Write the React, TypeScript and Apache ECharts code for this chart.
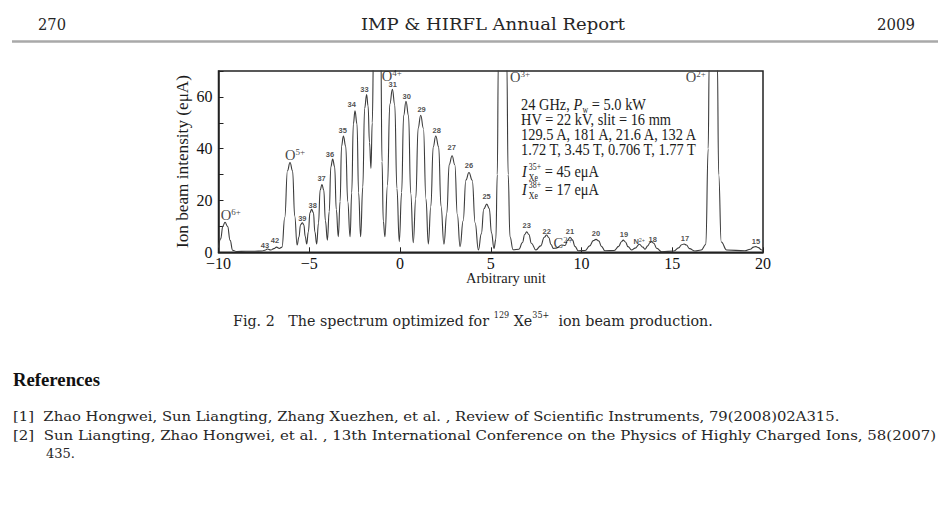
import React, { useEffect, useRef } from "react";
import * as echarts from "echarts";

// ---- spectrum (x: arbitrary unit, y: eμA) ----
const spectrumX = [
  -10.0, -9.88, -9.76, -9.64, -9.5, -9.36, -9.22, -9.0, -8.5, -8.0, -7.6, -7.45, -7.3, -7.12, -6.95, -6.8, -6.65,
  -6.5, -6.35, -6.2, -6.06, -5.92, -5.8, -5.67,
  -5.57, -5.48, -5.38, -5.3, -5.22, -5.14,
  -5.05, -4.96, -4.87, -4.77, -4.69, -4.59,
  -4.49, -4.4, -4.3, -4.2, -4.11, -4.0,
  -3.9, -3.81, -3.71, -3.6, -3.51, -3.4,
  -3.3, -3.22, -3.12, -2.99, -2.88, -2.75,
  -2.66, -2.57, -2.48, -2.37, -2.28, -2.17,
  -2.05, -1.95, -1.84, -1.76, -1.68, -1.6,
  -1.53, -1.45, -1.25, -1.06, -0.99, -0.92, -0.83,
  -0.69, -0.56, -0.42, -0.29, -0.17, -0.04,
  0.09, 0.2, 0.33, 0.47, 0.59, 0.73,
  0.87, 1.0, 1.14, 1.29, 1.43, 1.56,
  1.7, 1.83, 1.97, 2.13, 2.26, 2.42,
  2.58, 2.71, 2.87, 3.02, 3.16, 3.31,
  3.48, 3.63, 3.8, 3.98, 4.14, 4.32,
  4.48, 4.62, 4.78, 4.92, 5.04, 5.18,
  5.28, 5.36, 5.42, 5.65, 5.88, 5.96, 6.06, 6.23,
  6.55, 6.75, 6.87, 6.98, 7.1, 7.24, 7.49,
  7.75, 7.95, 8.08, 8.2, 8.32, 8.45,
  8.6, 8.91, 9.1, 9.22, 9.37, 9.5, 9.64, 9.82,
  10.2, 10.45, 10.65, 10.8, 10.95, 11.1, 11.29,
  11.8, 12.05, 12.2, 12.3, 12.42, 12.56, 12.76,
  12.95, 13.19, 13.38, 13.5, 13.65, 13.78, 13.87, 13.98, 14.15, 14.42,
  15.1, 15.35, 15.52, 15.65, 15.78, 15.95, 16.25,
  16.6, 16.85, 16.98, 17.04, 17.26, 17.48, 17.56, 17.7, 18.0,
  19.0, 19.3, 19.48, 19.61, 19.75, 19.9, 20.0,
];
const spectrumY = [
  1.8, 5.2, 10.1, 11.6, 10.0, 4.6, 0.8, 0.3, 0.4, 0.4, 0.5, 0.8, 1.3, 0.9, 1.4, 2.0, 1.5,
  2.0, 13.4, 31.5, 34.7, 31.5, 14.0, 2.8,
  5.8, 10.6, 11.4, 10.6, 6.1, 3.2,
  7.9, 15.3, 16.6, 15.3, 7.9, 3.2,
  11.3, 24.0, 26.2, 24.0, 12.2, 4.7,
  15.7, 33.0, 36.0, 33.0, 16.5, 6.0,
  19.6, 41.0, 44.9, 41.0, 19.6, 6.0,
  23.0, 49.6, 54.6, 49.6, 23.0, 6.0,
  25.2, 55.5, 60.9, 56.6, 42.4, 32.4,
  50, 80, 170, 80, 35, 12, 6.0,
  25.9, 57.2, 62.9, 57.0, 24.7, 4.1,
  23.1, 52.8, 58.3, 52.8, 22.8, 3.7,
  20.9, 48.0, 52.9, 47.9, 20.6, 3.2,
  17.8, 40.7, 44.9, 40.7, 17.8, 3.2,
  15.1, 33.9, 37.3, 33.8, 14.5, 2.2,
  12.2, 27.9, 30.8, 27.8, 11.4, 0.9,
  7.1, 16.8, 18.6, 16.9, 7.5, 1.5,
  5, 30, 75, 170, 75, 30, 6, 1.0,
  1.2, 3.8, 6.9, 7.9, 6.9, 3.5, 0.9,
  2.5, 5.8, 6.7, 5.6, 3.0, 1.5,
  1.6, 2.8, 2.6, 4.5, 5.8, 4.8, 2.3, 0.6,
  0.7, 2.5, 4.5, 5.0, 4.4, 2.3, 0.6,
  0.7, 2.3, 4.1, 4.7, 4.0, 2.2, 0.9,
  1.6, 3.1, 2.0, 1.2, 2.5, 3.8, 4.1, 3.5, 1.5, 0.2,
  0.5, 1.7, 2.9, 3.2, 2.8, 1.4, 0.5,
  0.9, 3, 40, 75, 170, 75, 30, 4, 0.9,
  0.6, 1.2, 2.0, 2.2, 1.8, 1.0, 0.6,
];

// ---- charge-state labels of the Xe peaks ----
const chargeX = [-7.44, -6.89, -5.38, -4.81, -4.32, -3.86, -3.16, -2.66, -1.96, -0.4, 0.37, 1.19, 2.02, 2.85, 3.8, 4.77, 6.98, 8.08, 9.36, 10.8, 12.34, 13.92, 15.7, 19.61];
const chargeY = [2.8, 4.4, 13.2, 18.2, 28.4, 37.8, 46.9, 57.1, 62.9, 64.8, 60.3, 55.1, 47.2, 40.5, 33.7, 21.4, 10.5, 7.9, 8.1, 7.1, 6.7, 5.1, 5.4, 4.1];
const chargeText = ["43", "42", "39", "38", "37", "36", "35", "34", "33", "31", "30", "29", "28", "27", "26", "25", "23", "22", "21", "20", "19", "18", "17", "15"];

// ---- other ion labels ----
const ionX = [-9.88, -6.34, -1.01, 6.06, 15.74, 8.46, 12.86];
const ionY = [14.4, 37.5, 68.0, 67.7, 67.7, 3.7, 4.1];
const ionBase = ["O", "O", "O", "O", "O", "C", "N"];
const ionCharge = ["6+", "5+", "4+", "3+", "2+", "2+", "2+"];

// ---- axes ----
const xMin = -10, xMax = 20, xStep = 5;
const yMin = 0, yMax = 70, yStep = 10, yLabelStep = 20;

// ---- texts ----
const headerLeft = "270";
const headerTitle = "IMP & HIRFL Annual Report";
const headerRight = "2009";
const yAxisTitle = "Ion beam intensity (eμA)";
const xAxisTitle = "Arbitrary unit";
const refTitle = "References";
const ref1 = "[1]  Zhao Hongwei, Sun Liangting, Zhang Xuezhen, et al. , Review of Scientific Instruments, 79(2008)02A315.";
const ref2 = "[2]  Sun Liangting, Zhao Hongwei, et al. , 13th International Conference on the Physics of Highly Charged Ions, 58(2007)";
const ref2b = "435.";

const SERIF = "Liberation Serif";
const PAGE = "DejaVu Serif";
const SANS = "Liberation Sans";

let measureCtx: CanvasRenderingContext2D | null = null;
function textW(t: string, font: string) {
  if (!measureCtx) measureCtx = document.createElement("canvas").getContext("2d");
  measureCtx!.font = font;
  return measureCtx!.measureText(t).width;
}

type Run = { t: string; size: number; dy?: number; dx?: number; italic?: boolean; bold?: boolean; family?: string; hold?: boolean };

function runs(list: Run[], x0: number, cy: number, family: string, opts: { width?: number; scale?: number; color?: string } = {}) {
  const fonts = list.map(
    (r) => `${r.italic ? "italic " : ""}${r.bold ? "bold " : ""}${r.size}px "${r.family || family}"`
  );
  const ws = list.map((r, i) => textW(r.t, fonts[i]));
  let natural = 0;
  let held = 0;
  list.forEach((r, i) => {
    natural += r.dx || 0;
    if (r.hold) held = Math.max(held, ws[i]);
    else {
      natural += Math.max(ws[i], held);
      held = 0;
    }
  });
  const k = opts.width ? opts.width / natural : opts.scale || 1;
  let x = x0;
  held = 0;
  const els: any[] = [];
  list.forEach((r, i) => {
    x += (r.dx || 0) * k;
    els.push({
      type: "text",
      x,
      y: cy + (r.dy || 0),
      scaleX: k,
      silent: true,
      z: 50,
      style: {
        text: r.t,
        x: 0,
        y: 0,
        fontSize: r.size,
        fontFamily: r.family || family,
        fontStyle: r.italic ? "italic" : "normal",
        fontWeight: r.bold ? "bold" : "normal",
        fill: opts.color || "#1c1c1c",
        align: "left",
        verticalAlign: "middle",
      },
    });
    if (r.hold) held = Math.max(held, ws[i]);
    else {
      x += Math.max(ws[i], held) * k;
      held = 0;
    }
  });
  return { els, k, natural };
}

function naturalWidth(list: Run[], family: string) {
  return runs(list, 0, 0, family).natural;
}

export default function App() {
  const ref = useRef<HTMLDivElement>(null);

  useEffect(() => {
    document.body.style.margin = "0";
    const chart = echarts.init(ref.current!, undefined, { renderer: "svg" });

    const spectrum = spectrumX.map((x, i) => [x, spectrumY[i]]);
    const chargeData = chargeX.map((x, i) => ({ value: [x, chargeY[i]], name: chargeText[i] }));
    const ionData = ionX.map((x, i) => ({ value: [x, ionY[i]], name: ionBase[i] }));

    // parameter box
    const boxSize = 17.5;
    const subSize = 9.5;
    const line4: Run[] = [{ t: "1.72 T, 3.45 T, 0.706 T, 1.77 T", size: boxSize }];
    const boxScale = 176 / naturalWidth(line4, SERIF);
    const bx = 521;
    const box = [
      ...runs(
        [
          { t: "24 GHz, ", size: boxSize },
          { t: "P", size: boxSize, italic: true },
          { t: "w", size: subSize, dy: 5.5, dx: 0.5 },
          { t: " = 5.0 kW", size: boxSize },
        ],
        bx, 104.3, SERIF, { scale: boxScale }
      ).els,
      ...runs([{ t: "HV = 22 kV, slit = 16 mm", size: boxSize }], bx, 119.3, SERIF, { scale: boxScale }).els,
      ...runs([{ t: "129.5 A, 181 A, 21.6 A, 132 A", size: boxSize }], bx, 134.3, SERIF, { scale: boxScale }).els,
      ...runs(line4, bx, 149.3, SERIF, { scale: boxScale }).els,
      ...runs(
        [
          { t: "I", size: boxSize, italic: true },
          { t: "35+", size: subSize, dy: -4, dx: 2.5, hold: true },
          { t: "Xe", size: subSize, dy: 7 },
          { t: " = 45 eμA", size: boxSize },
        ],
        bx + 1, 170.5, SERIF, { scale: boxScale }
      ).els,
      ...runs(
        [
          { t: "I", size: boxSize, italic: true },
          { t: "38+", size: subSize, dy: -4, dx: 2.5, hold: true },
          { t: "Xe", size: subSize, dy: 7 },
          { t: " = 17 eμA", size: boxSize },
        ],
        bx + 1, 189, SERIF, { scale: boxScale }
      ).els,
    ];

    // axis titles
    const yTitle = runs([{ t: yAxisTitle, size: 17.5 }], 0, 0, SERIF, { width: 173 });
    const yTitleEl = {
      type: "text",
      x: 182,
      y: 161.5,
      rotation: Math.PI / 2,
      scaleX: yTitle.k,
      silent: true,
      style: {
        text: yAxisTitle,
        fontSize: 17.5,
        fontFamily: SERIF,
        fill: "#1c1c1c",
        align: "center",
        verticalAlign: "middle",
      },
    };
    const xTitle = runs([{ t: xAxisTitle, size: 15 }], 466, 278, SERIF, { width: 80 }).els;

    // page texts
    const pageColor = "#262626";
    const header = [
      ...runs([{ t: headerLeft, size: 17 }], 38, 23.7, PAGE, { width: 28, color: pageColor }).els,
      ...runs([{ t: headerTitle, size: 17 }], 361, 23.7, PAGE, { width: 264, color: pageColor }).els,
      ...runs([{ t: headerRight, size: 17 }], 877, 23.7, PAGE, { width: 38, color: pageColor }).els,
      {
        type: "line",
        silent: true,
        shape: { x1: 12, y1: 41.5, x2: 938, y2: 41.5 },
        style: { stroke: "#a9a9a9", lineWidth: 2.5 },
      },
    ];
    const caption = runs(
      [
        { t: "Fig. 2", size: 15 },
        { t: "   The spectrum optimized for ", size: 15 },
        { t: "129", size: 8.5, dy: -5 },
        { t: " Xe", size: 15 },
        { t: "35+", size: 8.5, dy: -5 },
        { t: "  ion beam production.", size: 15 },
      ],
      233, 320, PAGE, { width: 480, color: pageColor }
    ).els;
    const refs = [
      ...runs([{ t: refTitle, size: 18, bold: true }], 13, 380, SERIF, { width: 87, color: "#111" }).els,
      ...runs([{ t: ref1, size: 13.5 }], 13, 416, PAGE, { width: 827, color: pageColor }).els,
      ...runs([{ t: ref2, size: 13.5 }], 13, 435, PAGE, { width: 924, color: pageColor }).els,
      ...runs([{ t: ref2b, size: 13.5 }], 46, 453, PAGE, { width: 29, color: pageColor }).els,
    ];

    const axisColor = "#222";
    const option: any = {
      animation: false,
      backgroundColor: "#fff",
      grid: {
        left: 218.5,
        right: 187,
        top: 71,
        bottom: 254.7,
        show: true,
        borderColor: axisColor,
        borderWidth: 1.5,
        backgroundColor: "transparent",
      },
      xAxis: {
        type: "value",
        min: xMin,
        max: xMax,
        interval: xStep,
        axisLine: { show: true, onZero: false, lineStyle: { color: axisColor, width: 1.5 } },
        axisTick: { show: true, inside: true, length: 5, lineStyle: { color: axisColor, width: 1 } },
        axisLabel: {
          margin: 3,
          fontFamily: SERIF,
          fontSize: 16,
          color: "#111",
          formatter: (v: number) => (v < 0 ? "\u2212" + Math.abs(v) : String(v)),
        },
        splitLine: { show: false },
      },
      yAxis: {
        type: "value",
        min: yMin,
        max: yMax,
        interval: yStep,
        axisLine: { show: true, onZero: false, lineStyle: { color: axisColor, width: 1.5 } },
        axisTick: { show: true, inside: true, length: 5, lineStyle: { color: axisColor, width: 1 } },
        axisLabel: {
          margin: 6,
          fontFamily: SERIF,
          fontSize: 16,
          color: "#111",
          formatter: (v: number) => (v % yLabelStep === 0 && v < yMax ? String(v) : ""),
        },
        splitLine: { show: false },
      },
      series: [
        {
          type: "line",
          data: spectrum,
          showSymbol: false,
          smooth: 0.45,
          smoothMonotone: "x",
          clip: true,
          silent: true,
          lineStyle: { color: "#3c3c3c", width: 1.1 },
          z: 3,
        },
        {
          type: "scatter",
          data: chargeData,
          symbolSize: 1,
          itemStyle: { color: "rgba(0,0,0,0)" },
          silent: true,
          z: 5,
          label: {
            show: true,
            position: "inside",
            formatter: (p: any) => p.name,
            fontFamily: SANS,
            fontSize: 7.5,
            fontWeight: "bold",
            color: "#222",
            textBorderWidth: 0,
          },
        },
        {
          type: "scatter",
          data: ionData,
          symbolSize: 1,
          itemStyle: { color: "rgba(0,0,0,0)" },
          silent: true,
          z: 5,
          label: {
            show: true,
            position: "inside",
            align: "left",
            verticalAlign: "middle",
            textBorderWidth: 0,
            formatter: (p: any) => {
              const i = p.dataIndex;
              return ionBase[i] === "N"
                ? `{n|${ionBase[i]}}{ns|${ionCharge[i]}}`
                : `{b|${ionBase[i]}}{s|${ionCharge[i]}}`;
            },
            rich: {
              b: { fontFamily: SERIF, fontSize: 14.5, color: "#111", lineHeight: 15, verticalAlign: "middle" },
              s: { fontFamily: SERIF, fontSize: 9, color: "#111", lineHeight: 9, verticalAlign: "top" },
              n: { fontFamily: SANS, fontSize: 7.5, fontWeight: "bold", color: "#222", lineHeight: 10, verticalAlign: "middle" },
              ns: { fontFamily: SANS, fontSize: 5.5, color: "#222", lineHeight: 6, verticalAlign: "top" },
            },
          },
        },
      ],
      graphic: [...header, ...box, yTitleEl, ...xTitle, ...caption, ...refs],
    };

    chart.setOption(option);
    return () => chart.dispose();
  }, []);

  return (
    <div
      ref={ref}
      style={{ position: "absolute", left: 0, top: 0, width: 950, height: 507, background: "#fff" }}
    />
  );
}
